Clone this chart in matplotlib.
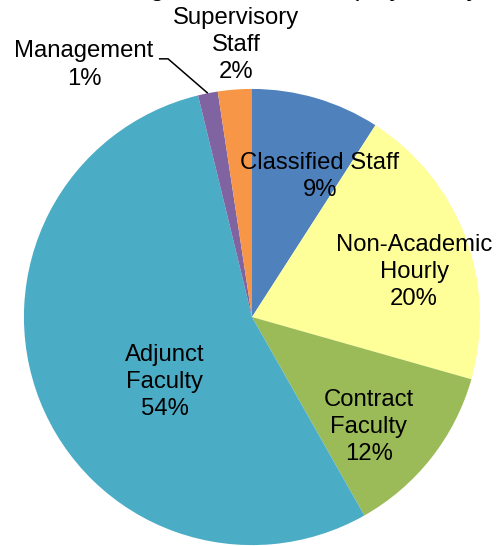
import numpy as np
import matplotlib
matplotlib.use('Agg')
import matplotlib.pyplot as plt

plt.rcParams['font.family'] = ['Liberation Sans', 'DejaVu Sans']

# share of employees by classification (percent)
categories = ['Classified Staff', 'Non-Academic\nHourly', 'Contract\nFaculty',
              'Adjunct\nFaculty', 'Management', 'Supervisory\nStaff']
shares = [9.1, 20.3, 12.4, 54.4, 1.4, 2.4]
colors = ['#4F81BD', '#FFFF99', '#9BBB59', '#4BACC6', '#8064A2', '#F79646']

# where each label sits (data units, pie radius = 1)
label_pos = [(0.298, 0.618), (0.711, 0.197), (0.513, -0.482),
             (-0.382, -0.285), (-0.737, 1.105), (-0.070, 1.193)]

fig = plt.figure(figsize=(4.96, 5.46), dpi=100)
ax = fig.add_axes([0, 0, 1, 1])

wedges, _ = ax.pie(shares, colors=colors, startangle=90, counterclock=False,
                   radius=1, wedgeprops=dict(linewidth=0))
ax.set_aspect('auto')
ax.set_xlim(-1.105, 1.070)
ax.set_ylim(-1.004, 1.390)
ax.axis('off')

total = sum(shares)
for name, val, (x, y) in zip(categories, shares, label_pos):
    pct = round(val / total * 100)
    ax.text(x, y, f'{name}\n{pct}%', ha='center', va='center',
            fontsize=17.2, linespacing=1.3, color='black')

# leader line for the small Management slice
w = wedges[4]
mid = np.deg2rad((w.theta1 + w.theta2) / 2)
ex, ey = np.cos(mid), np.sin(mid)
ax.plot([-0.408, -0.368, ex], [1.132, 1.132, ey], color='black', lw=1.1,
        solid_capstyle='butt')

# chart title, mostly above the top edge of the canvas
fig.text(480 / 496, 550 / 546, 'Total College Number of Employees by',
         ha='right', va='baseline', fontsize=18.8)

fig.savefig('out.png', dpi=100)
